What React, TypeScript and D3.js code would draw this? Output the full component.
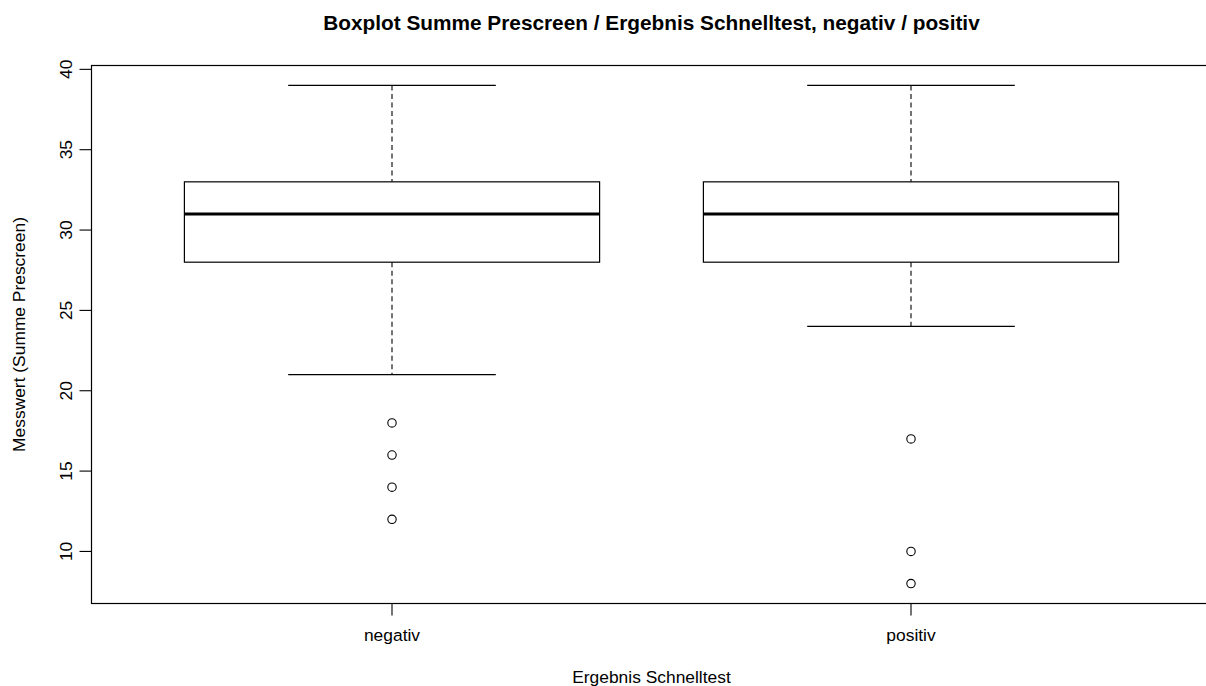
import React from "react";
import * as d3 from "d3";

// Categories and five-number summaries per group
const categories = ["negativ", "positiv"];
const lowerWhisker = [21, 24];
const q1 = [28, 28];
const median = [31, 31];
const q3 = [33, 33];
const upperWhisker = [39, 39];
const outliers: number[][] = [
  [18, 16, 14, 12],
  [17, 10, 8],
];
const yTicks = [10, 15, 20, 25, 30, 35, 40];

const title = "Boxplot Summe Prescreen / Ergebnis Schnelltest, negativ / positiv";
const xTitle = "Ergebnis Schnelltest";
const yTitle = "Messwert (Summe Prescreen)";

const W = 1206;
const H = 686;
const plotLeft = 91.5;
const plotRight = 1211.5;
const plotTop = 65.5;
const plotBottom = 603.5;
const font = "'Liberation Sans', Arial, Helvetica, sans-serif";
const labelSize = 17.4;

export default function App() {
  const x = d3.scaleLinear().domain([0.421, 2.579]).range([plotLeft, plotRight]);
  const y = d3.scaleLinear().domain([6.76, 40.24]).range([plotBottom, plotTop]);
  const boxHalf = 0.4;
  const capHalf = 0.2;

  return (
    <svg
      width={W}
      height={H}
      style={{ position: "absolute", left: 0, top: 0, background: "#fff" }}
      fontFamily={font}
    >
      <rect x={0} y={0} width={W} height={H} fill="#fff" />
      {/* title */}
      <text
        x={(plotLeft + plotRight) / 2}
        y={30}
        textAnchor="middle"
        fontWeight="bold"
        fontSize={20.8}
        fill="#000"
      >
        {title}
      </text>

      {/* plot frame */}
      <rect
        x={plotLeft}
        y={plotTop}
        width={plotRight - plotLeft}
        height={plotBottom - plotTop}
        fill="none"
        stroke="#000"
        strokeWidth={1.2}
      />

      {/* y axis */}
      {yTicks.map((t) => (
        <g key={t}>
          <line x1={plotLeft - 12} x2={plotLeft} y1={y(t)} y2={y(t)} stroke="#000" strokeWidth={1.1} />
          <text
            transform={`translate(${plotLeft - 20},${y(t)}) rotate(-90)`}
            textAnchor="middle"
            fontSize={labelSize}
            fill="#000"
          >
            {t}
          </text>
        </g>
      ))}
      <text
        transform={`translate(25,${(plotTop + plotBottom) / 2}) rotate(-90)`}
        textAnchor="middle"
        fontSize={labelSize}
        fill="#000"
      >
        {yTitle}
      </text>

      {/* x axis */}
      {categories.map((c, i) => (
        <g key={c}>
          <line x1={x(i + 1)} x2={x(i + 1)} y1={plotBottom} y2={plotBottom + 12} stroke="#000" strokeWidth={1.1} />
          <text x={x(i + 1)} y={641} textAnchor="middle" fontSize={labelSize} fill="#000">
            {c}
          </text>
        </g>
      ))}
      <text x={(plotLeft + plotRight) / 2} y={683} textAnchor="middle" fontSize={labelSize} fill="#000">
        {xTitle}
      </text>

      {/* boxes */}
      {categories.map((c, i) => {
        const cx = x(i + 1);
        const bl = x(i + 1 - boxHalf);
        const br = x(i + 1 + boxHalf);
        const cl = x(i + 1 - capHalf);
        const cr = x(i + 1 + capHalf);
        return (
          <g key={c} fill="none" stroke="#000">
            <line x1={cx} x2={cx} y1={y(upperWhisker[i])} y2={y(q3[i])} strokeDasharray="5,3.5" strokeWidth={1.1} />
            <line x1={cx} x2={cx} y1={y(q1[i])} y2={y(lowerWhisker[i])} strokeDasharray="5,3.5" strokeWidth={1.1} />
            <line x1={cl} x2={cr} y1={y(upperWhisker[i])} y2={y(upperWhisker[i])} strokeWidth={1.2} />
            <line x1={cl} x2={cr} y1={y(lowerWhisker[i])} y2={y(lowerWhisker[i])} strokeWidth={1.2} />
            <rect x={bl} y={y(q3[i])} width={br - bl} height={y(q1[i]) - y(q3[i])} strokeWidth={1.2} />
            <line x1={bl} x2={br} y1={y(median[i])} y2={y(median[i])} strokeWidth={3.2} />
            {outliers[i].map((v, k) => (
              <circle key={k} cx={cx} cy={y(v)} r={4.2} strokeWidth={1.1} />
            ))}
          </g>
        );
      })}
    </svg>
  );
}
